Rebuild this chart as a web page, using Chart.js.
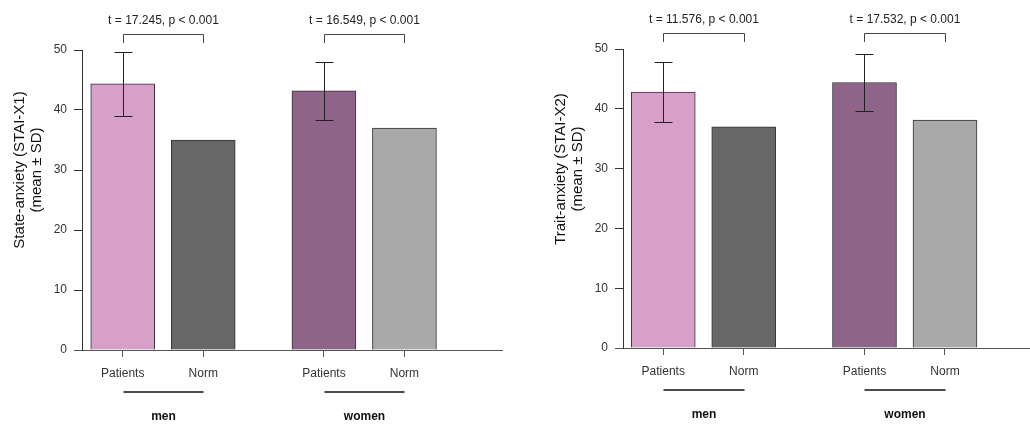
<!DOCTYPE html>
<html>
<head>
<meta charset="utf-8">
<script src="https://cdn.jsdelivr.net/npm/chart.js@4"></script>
<style>
  body { margin: 0; width: 1030px; height: 424px; overflow: hidden; background: #fff; }
  .panel { position: absolute; top: 0; height: 424px; overflow: hidden; }
  .js-state { left: 0; width: 540px; }
  .js-trait { left: 540px; width: 490px; }
</style>
</head>
<body>
<div class="panel js-state"><canvas id="stateChart" width="540" height="424"></canvas></div>
<div class="panel js-trait"><canvas id="traitChart" width="490" height="424"></canvas></div>
<script>
// groups and conditions, bars go men-Patients, men-Norm, women-Patients, women-Norm
const groups = ['men', 'women'];
const conditions = ['Patients', 'Norm'];

// State-anxiety (STAI-X1)
const stateMeans = [44.35, 35.0, 43.2, 37.0];
const stateSD = [5.35, null, 4.85, null];
const stateTests = ['t = 17.245, p < 0.001', 't = 16.549, p < 0.001'];

// Trait-anxiety (STAI-X2)
const traitMeans = [42.8, 37.0, 44.4, 38.1];
const traitSD = [5.0, null, 4.8, null];
const traitTests = ['t = 11.576, p < 0.001', 't = 17.532, p < 0.001'];

const yTicks = [0, 10, 20, 30, 40, 50];

const barColors = ['#d6a0c8', '#676767', '#8e6589', '#a9a9a9'];
const fontFamily = "'Liberation Sans', Arial, sans-serif";

// position on the x scale: 2.5 units between group starts
const barX = function(i) {
  return Math.floor(i / 2) * 2.5 + (i % 2);
};

const annotatePlugin = {
  id: 'annotate',
  afterDatasetsDraw(chart, args, opts) {
    const ctx = chart.ctx;
    const xs = chart.scales.x;
    const ys = chart.scales.y;
    // error bars (mean +- SD)
    ctx.save();
    ctx.strokeStyle = '#222';
    ctx.lineWidth = 1;
    opts.means.forEach((m, i) => {
      const sd = opts.sd[i];
      if (sd == null) return;
      const x = Math.round(xs.getPixelForValue(barX(i))) + 0.5;
      const yTop = Math.round(ys.getPixelForValue(m + sd)) + 0.5;
      const yBot = Math.round(ys.getPixelForValue(m - sd)) + 0.5;
      ctx.beginPath();
      ctx.moveTo(x, yTop); ctx.lineTo(x, yBot);
      ctx.moveTo(x - 9, yTop); ctx.lineTo(x + 9, yTop);
      ctx.moveTo(x - 9, yBot); ctx.lineTo(x + 9, yBot);
      ctx.stroke();
    });
    ctx.restore();
  },
  afterDraw(chart, args, opts) {
    const ctx = chart.ctx;
    const area = chart.chartArea;
    const xs = chart.scales.x;
    ctx.save();

    // x axis line runs a bit left of the y axis
    ctx.strokeStyle = '#555';
    ctx.lineWidth = 1;
    ctx.beginPath();
    ctx.moveTo(area.left - 8, area.bottom + 0.5);
    ctx.lineTo(area.left, area.bottom + 0.5);
    ctx.stroke();

    groups.forEach((g, gi) => {
      const x1 = Math.round(xs.getPixelForValue(gi * 2.5)) + 0.5;
      const x2 = Math.round(xs.getPixelForValue(gi * 2.5 + 1)) + 0.5;
      const mid = (x1 + x2) / 2;

      // significance bracket
      ctx.strokeStyle = '#444';
      ctx.lineWidth = 1;
      ctx.beginPath();
      ctx.moveTo(x1, area.top - 7);
      ctx.lineTo(x1, area.top - 15.5);
      ctx.lineTo(x2, area.top - 15.5);
      ctx.lineTo(x2, area.top - 7);
      ctx.stroke();

      ctx.fillStyle = '#222';
      ctx.font = '12px ' + fontFamily;
      ctx.textAlign = 'center';
      ctx.textBaseline = 'middle';
      ctx.fillText(opts.tests[gi], mid, area.top - 29);

      // group line + label
      ctx.strokeStyle = '#111';
      ctx.lineWidth = 1.5;
      ctx.beginPath();
      ctx.moveTo(x1, area.bottom + 42);
      ctx.lineTo(x2, area.bottom + 42);
      ctx.stroke();

      ctx.fillStyle = '#111';
      ctx.font = 'bold 12px ' + fontFamily;
      ctx.fillText(g, mid, area.bottom + 67);
    });

    // y axis title, two lines
    ctx.fillStyle = '#111';
    ctx.font = '15px ' + fontFamily;
    ctx.textAlign = 'center';
    ctx.textBaseline = 'middle';
    ctx.translate(area.left - 62, area.top + 120);
    ctx.rotate(-Math.PI / 2);
    ctx.fillText(opts.title[0], 0, 0);
    ctx.fillText(opts.title[1], 0, 17);
    ctx.restore();
  }
};

const makePanel = function(canvasId, means, sd, tests, title, box) {
  const ctx = document.getElementById(canvasId).getContext('2d');
  return new Chart(ctx, {
    type: 'bar',
    data: {
      datasets: [{
        data: means.map((m, i) => ({ x: barX(i), y: m })),
        backgroundColor: barColors,
        borderColor: '#333',
        borderWidth: 1,
        barThickness: 64
      }]
    },
    plugins: [annotatePlugin],
    options: {
      responsive: false,
      animation: false,
      events: [],
      layout: { padding: { top: box.top, right: box.right, left: 0, bottom: 0 } },
      plugins: {
        legend: { display: false },
        tooltip: { enabled: false },
        annotate: { means: means, sd: sd, tests: tests, title: title }
      },
      scales: {
        x: {
          type: 'linear',
          offset: false,
          min: box.xMin,
          max: box.xMax,
          afterBuildTicks: s => { s.ticks = means.map((m, i) => ({ value: barX(i) })); },
          afterFit: s => { s.height = box.xHeight; },
          ticks: {
            autoSkip: false,
            maxRotation: 0,
            padding: 9,
            color: '#333',
            font: { family: fontFamily, size: 12 },
            callback: (v, i) => conditions[i % 2]
          },
          grid: { offset: false, drawOnChartArea: false, drawTicks: true, tickLength: 7, color: '#555' },
          border: { color: '#555', width: 1 }
        },
        y: {
          min: 0,
          max: 50,
          afterBuildTicks: s => { s.ticks = yTicks.map(v => ({ value: v })); },
          afterFit: s => { s.width = box.yWidth; },
          ticks: {
            padding: 7,
            color: '#333',
            font: { family: fontFamily, size: 12 }
          },
          grid: { drawOnChartArea: false, drawTicks: true, tickLength: 8, color: '#333' },
          border: { color: '#333', width: 1 }
        }
      }
    }
  });
};

document.addEventListener("DOMContentLoaded", function () {
  makePanel('stateChart', stateMeans, stateSD, stateTests,
    ['State-anxiety (STAI-X1)', '(mean \u00b1 SD)'],
    { top: 50, right: 38, yWidth: 82, xHeight: 74, xMin: -0.506, xMax: 4.712 });
  makePanel('traitChart', traitMeans, traitSD, traitTests,
    ['Trait-anxiety (STAI-X2)', '(mean \u00b1 SD)'],
    { top: 49, right: 0, yWidth: 83, xHeight: 76, xMin: -0.50, xMax: 4.556 });
});
</script>
</body>
</html>
